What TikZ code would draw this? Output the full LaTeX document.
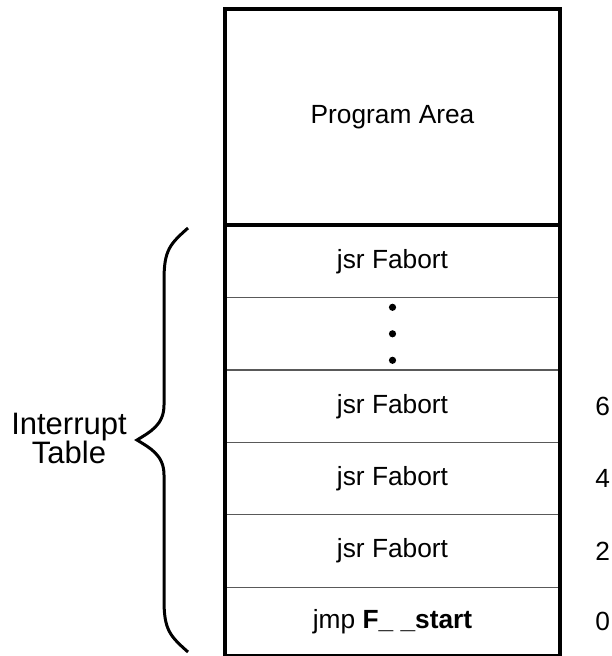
\documentclass[tikz,border=0pt]{standalone}
\usepackage{fontspec}
\setmainfont{Liberation Sans}
\usetikzlibrary{positioning}

\begin{document}
\begin{tikzpicture}[x=1pt,y=-1pt,
	cell/.style={minimum width=335pt, minimum height=72pt, inner sep=0pt, font=\fontsize{26.3}{30}\selectfont},
	offset/.style={anchor=west, inner sep=0pt, font=\fontsize{26.3}{30}\selectfont},
	outer/.style={line width=4pt},
	divider/.style={line width=1.3pt, black!65},
	brace/.style={line width=3pt, line join=miter}]
	\useasboundingbox (0,0) rectangle (612,656);
	\node[cell, minimum height=215.5pt] (prog) at (392.5,117.25) {Program Area};
	\node[cell, below=0pt of prog] (r1) {jsr Fabort};
	\node[cell, below=0pt of r1] (dots) {};
	\node[cell, below=0pt of dots] (r6) {jsr Fabort};
	\node[cell, below=0pt of r6] (r4) {jsr Fabort};
	\node[cell, below=0pt of r4] (r2) {jsr Fabort};
	\node[cell, minimum height=68pt, below=0pt of r2] (r0) {jmp \textbf{F\_ \_start}};
	\foreach \dy in {-26.5,0,26.5}
		\fill ([yshift=\dy pt]dots.center) circle (3.6pt);
	\foreach \r in {r1,dots,r6,r4}
		\draw[divider] (\r.south west) -- (\r.south east);
	\draw[divider] (r2.north west) -- (r2.north east);
	\draw[divider] (r2.south west) -- (r2.south east);
	\draw[outer] (prog.south west) -- (prog.south east);
	\draw[outer] (prog.north west) rectangle (r0.south east);
	\node[offset] (n6) at ([xshift=35pt]r6.east) {6};
	\node[offset] (n4) at ([xshift=35pt]r4.east) {4};
	\node[offset] (n2) at ([xshift=35pt]r2.east) {2};
	\node[offset] (n0) at ([xshift=35pt]r0.east) {0};
	\draw[brace] (188,228) .. controls (170,244) and (164,250) .. (164,280) -- (164,405) .. controls (164,425) and (150,432) .. (137,440) .. controls (150,448) and (164,455) .. (164,475) -- (164,600) .. controls (164,630) and (170,636) .. (188,652);
	\node[align=center, font=\fontsize{31}{29}\selectfont] (itab) at (69,438) {Interrupt\\Table};
\end{tikzpicture}
\end{document}
